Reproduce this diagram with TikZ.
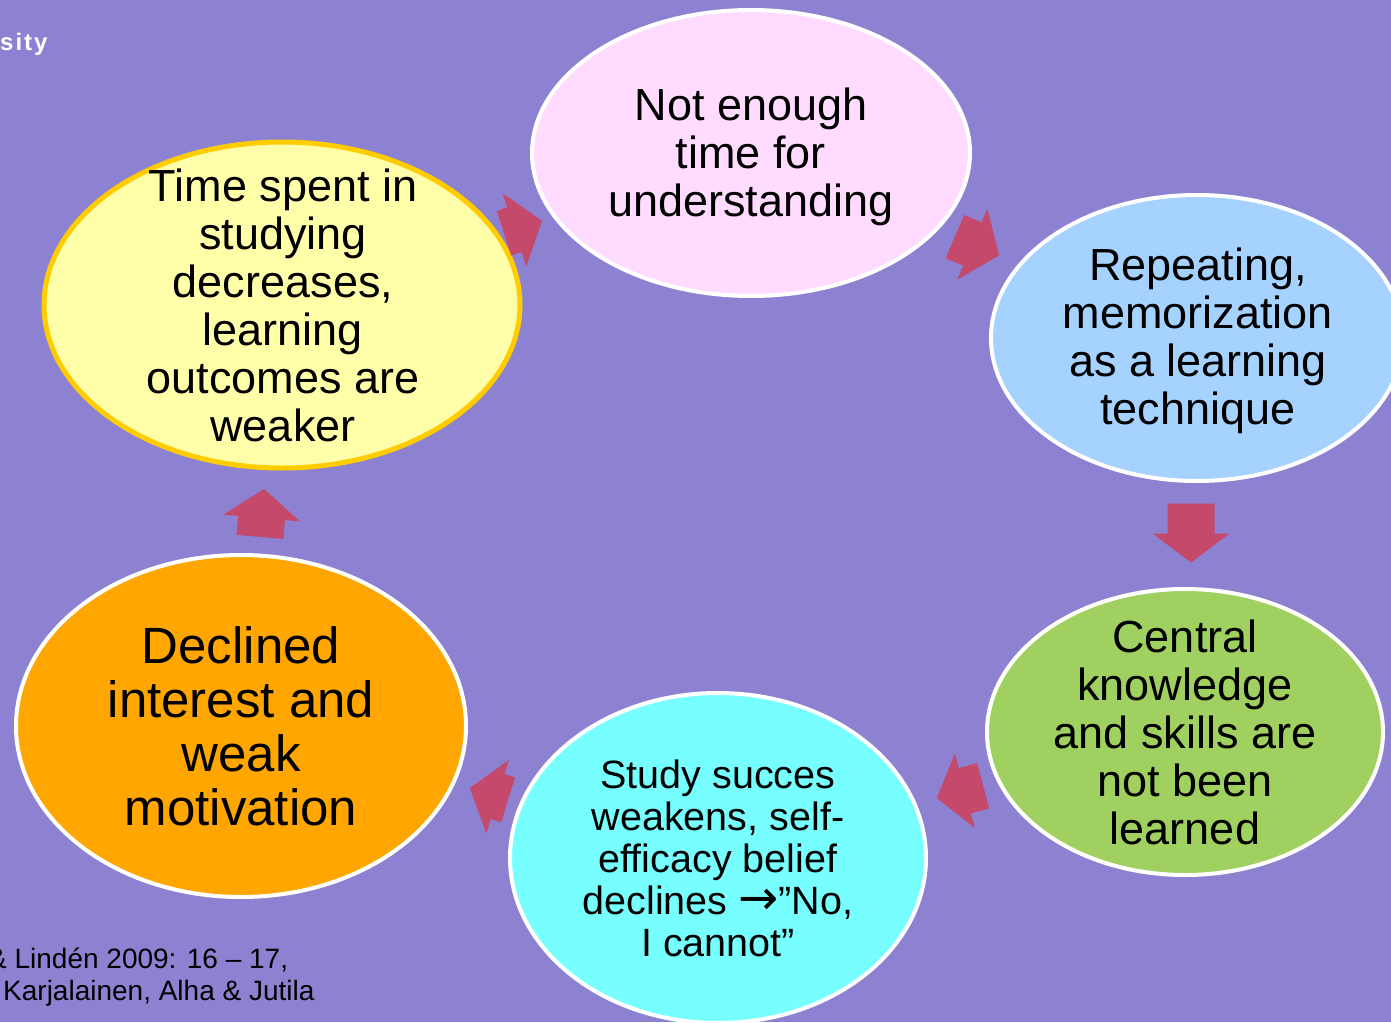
\documentclass[tikz,border=0pt]{standalone}
\usepackage{fontspec}
\setmainfont{Liberation Sans}
\newfontfamily\arrowfont{DejaVu Sans}
\usetikzlibrary{shapes.geometric}

\definecolor{slidebg}{RGB}{140,130,209}
\definecolor{arrowred}{RGB}{196,73,107}
\definecolor{pinkfill}{RGB}{255,220,255}
\definecolor{bluefill}{RGB}{166,210,255}
\definecolor{greenfill}{RGB}{160,208,96}
\definecolor{cyanfill}{RGB}{119,255,255}
\definecolor{orangefill}{RGB}{255,166,0}
\definecolor{yellowfill}{RGB}{255,255,170}
\definecolor{yellowline}{RGB}{255,204,0}

\tikzset{pics/blockarrow/.style={code={
  \fill [arrowred] (-#1/2,-23.5) -- (#1/2-29,-23.5) -- (#1/2-29,-38.5) -- (#1/2,0)
    -- (#1/2-29,38.5) -- (#1/2-29,23.5) -- (-#1/2,23.5) -- cycle;}}}

\begin{document}
\begin{tikzpicture}[x=1pt, y=-1pt,
  bubble/.style={ellipse, draw=white, line width=4pt, inner sep=0pt},
  txt/.style={align=center, inner sep=0pt, font=\fontsize{45}{48}\selectfont}]
  \path[use as bounding box] (0,0) rectangle (1391,1022);
  \clip (0,0) rectangle (1391,1022);
  \fill [slidebg] (0,0) rectangle (1391,1022);

  % the six bubbles
  \node [bubble, fill=pinkfill, minimum width=438pt, minimum height=286pt] (time) at (751,153) {};
  \node [bubble, fill=bluefill, minimum width=412pt, minimum height=286pt] (repeat) at (1197,338) {};
  \node [bubble, fill=greenfill, minimum width=396pt, minimum height=286pt] (central) at (1185,732) {};
  \node [bubble, fill=cyanfill, minimum width=416pt, minimum height=330pt] (success) at (718,858) {};
  \node [bubble, fill=orangefill, minimum width=450pt, minimum height=342pt] (interest) at (241,726) {};
  \node [bubble, fill=yellowfill, draw=yellowline, line width=5pt, minimum width=476pt, minimum height=326pt] (spent) at (282,305) {};

  \node [txt] (time-t) at (751,157) {Not enough\\ time for\\ understanding};
  \node [txt] (repeat-t) at (1198,341) {Repeating,\\ memorization\\ as a learning\\ technique};
  \node [txt] (central-t) at (central) {Central\\ knowledge\\ and skills are\\ not been\\ learned};
  \node [txt, font=\fontsize{39.5}{42}\selectfont] (success-t) at (success) {Study succes\\ weakens, self-\\ efficacy belief\\ declines {\arrowfont\fontsize{48}{42}\selectfont →}”No,\\ I cannot”};
  \node [txt, font=\fontsize{51}{54}\selectfont] (interest-t) at (interest) {Declined\\ interest and\\ weak\\ motivation};
  \node [txt] (spent-t) at (283,305) {Time spent in\\ studying\\ decreases,\\ learning\\ outcomes are\\ weaker};

  % arrows between bubbles
  \pic [rotate=18] (a1) at (523,227) {blockarrow=40};
  \pic [rotate=-23] (a2) at (977,246) {blockarrow=48};
  \pic [rotate=-90] (a3) at (1191,533) {blockarrow=59};
  \pic [rotate=195] (a4) at (960,792) {blockarrow=48};
  \pic [rotate=163] (a5) at (489,794) {blockarrow=40};
  \pic [rotate=85] (a6) at (262,513) {blockarrow=48};

  % cut-off slide texts
  \node [anchor=west, inner sep=0pt, text=white, font=\fontsize{24}{26}\selectfont\bfseries] (uni) at (0,44) {s\kern2pt i\kern2pt t\kern2pt y};
  \node [anchor=west, inner sep=0pt, font=\fontsize{28}{33}\selectfont] (ref1) at (-12,960) {\& Lindén 2009: 16 – 17,};
  \node [anchor=west, inner sep=0pt, font=\fontsize{28}{33}\selectfont] (ref2) at (3,993) {Karjalainen, Alha \& Jutila};
\end{tikzpicture}
\end{document}
